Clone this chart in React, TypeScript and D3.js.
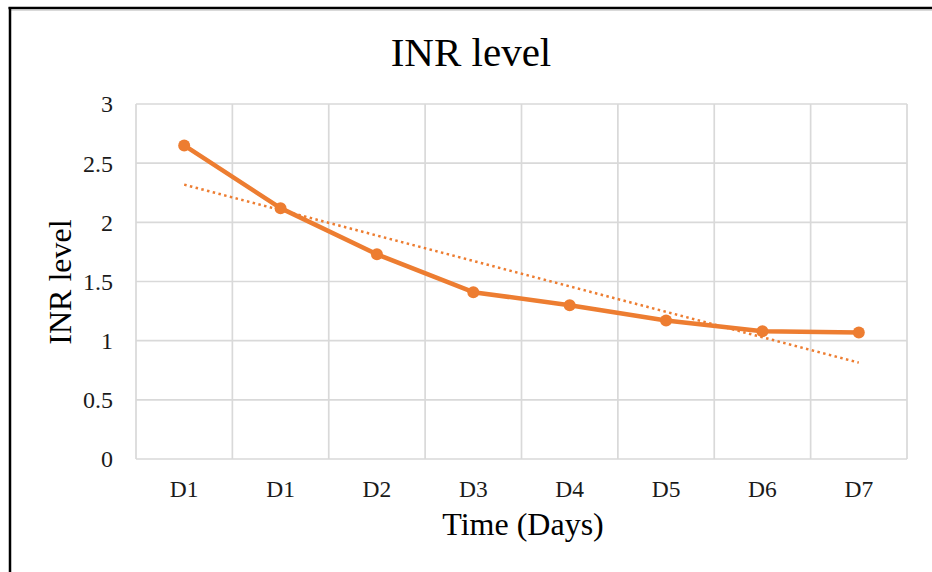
import React from "react";
import * as d3 from "d3";

const categories = ["D1", "D1", "D2", "D3", "D4", "D5", "D6", "D7"];
const inrValues = [2.65, 2.12, 1.73, 1.41, 1.3, 1.17, 1.08, 1.07];
const yTicks = [0, 0.5, 1, 1.5, 2, 2.5, 3];
const titleText = "INR level";
const xTitle = "Time (Days)";
const yTitle = "INR level";

const W = 932;
const H = 572;
const plot = { left: 136, right: 907, top: 104, bottom: 459 };
const ORANGE = "#ED7D31";
const FONT = "'Liberation Serif', 'Times New Roman', serif";

export default function App() {
  const idx = categories.map((_, i) => i);
  const x = d3
    .scaleBand<number>()
    .domain(idx)
    .range([plot.left, plot.right])
    .paddingInner(0)
    .paddingOuter(0);
  const y = d3.scaleLinear().domain([0, 3]).range([plot.bottom, plot.top]);
  const cx = (i: number) => (x(i) as number) + x.bandwidth() / 2;

  // linear trendline (least squares) on the series
  const n = inrValues.length;
  const xs = idx.map((i) => i + 1);
  const mx = d3.mean(xs) as number;
  const my = d3.mean(inrValues) as number;
  const sxy = d3.sum(xs.map((xv, i) => (xv - mx) * (inrValues[i] - my)));
  const sxx = d3.sum(xs.map((xv) => (xv - mx) ** 2));
  const slope = sxy / sxx;
  const icpt = my - slope * mx;
  const trend = [0, n - 1].map((i) => [cx(i), y(icpt + slope * (i + 1))] as [number, number]);

  const line = d3
    .line<number>()
    .x((_, i) => cx(i))
    .y((d) => y(d));

  const boundaries = d3.range(n + 1).map((i) =>
    i < n ? (x(i) as number) : (x(n - 1) as number) + x.bandwidth()
  );

  return (
    <div style={{ position: "fixed", left: 0, top: 0 }}>
      <svg width={W} height={H} style={{ display: "block", background: "#fff" }}>
        <rect x={0} y={0} width={W} height={H} fill="#fff" />
        {/* frame */}
        <line x1={11} y1={10.5} x2={W} y2={10.5} stroke="#d9d9d9" strokeWidth={1} />
        <line x1={8.5} y1={8} x2={W} y2={8} stroke="#000" strokeWidth={2.5} />
        <line x1={10} y1={7} x2={10} y2={H} stroke="#000" strokeWidth={2.5} />

        {/* gridlines */}
        {yTicks.map((t) => (
          <line
            key={"h" + t}
            x1={plot.left}
            x2={plot.right}
            y1={y(t)}
            y2={y(t)}
            stroke="#d9d9d9"
            strokeWidth={1.7}
          />
        ))}
        {boundaries.map((bx, i) => (
          <line
            key={"v" + i}
            x1={bx}
            x2={bx}
            y1={plot.top}
            y2={plot.bottom}
            stroke="#d9d9d9"
            strokeWidth={1.7}
          />
        ))}

        {/* y tick labels */}
        {yTicks.map((t) => (
          <text
            key={"yl" + t}
            x={113}
            y={y(t)}
            dy="0.35em"
            textAnchor="end"
            fontFamily={FONT}
            fontSize={24}
            fill="#1a1a1a"
          >
            {String(t)}
          </text>
        ))}

        {/* x tick labels */}
        {categories.map((c, i) => (
          <text
            key={"xl" + i}
            x={cx(i)}
            y={497}
            textAnchor="middle"
            fontFamily={FONT}
            fontSize={23.5}
            fill="#1a1a1a"
          >
            {c}
          </text>
        ))}

        {/* trendline */}
        <line
          x1={trend[0][0]}
          y1={trend[0][1]}
          x2={trend[1][0]}
          y2={trend[1][1]}
          stroke={ORANGE}
          strokeWidth={2.5}
          strokeDasharray="2.5 3.4"
        />

        {/* series */}
        <path
          d={line(inrValues) || ""}
          fill="none"
          stroke={ORANGE}
          strokeWidth={4.5}
          strokeLinejoin="round"
          strokeLinecap="round"
        />
        {inrValues.map((v, i) => (
          <circle key={"p" + i} cx={cx(i)} cy={y(v)} r={6} fill={ORANGE} />
        ))}

        {/* titles */}
        <text
          x={471}
          y={66}
          textAnchor="middle"
          fontFamily={FONT}
          fontSize={41}
          fill="#000"
        >
          {titleText}
        </text>
        <text
          x={523}
          y={535}
          textAnchor="middle"
          fontFamily={FONT}
          fontSize={32}
          fill="#000"
        >
          {xTitle}
        </text>
        <text
          transform={`translate(71, 282) rotate(-90)`}
          textAnchor="middle"
          fontFamily={FONT}
          fontSize={32}
          fill="#000"
        >
          {yTitle}
        </text>
      </svg>
    </div>
  );
}
